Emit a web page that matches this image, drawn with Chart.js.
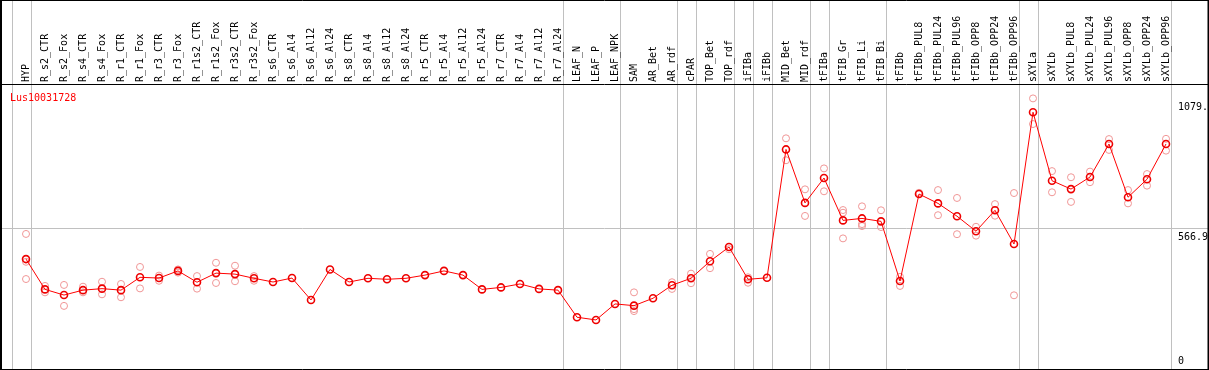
<!DOCTYPE html>
<html>
<head>
<meta charset="utf-8">
<script src="https://cdn.jsdelivr.net/npm/chart.js@4/dist/chart.umd.min.js"></script>
<style>
  body { margin: 0; background: #fff; }
  canvas { display: block; }
</style>
</head>
<body>
<canvas id="chart" width="1209" height="370"></canvas>
<script>
var seriesName = 'Lus10031728';

var categories = ['HYP', 'R_s2_CTR', 'R_s2_Fox', 'R_s4_CTR', 'R_s4_Fox', 'R_r1_CTR', 'R_r1_Fox',
    'R_r3_CTR', 'R_r3_Fox', 'R_r1s2_CTR', 'R_r1s2_Fox', 'R_r3s2_CTR', 'R_r3s2_Fox',
    'R_s6_CTR', 'R_s6_Al4', 'R_s6_Al12', 'R_s6_Al24', 'R_s8_CTR', 'R_s8_Al4', 'R_s8_Al12', 'R_s8_Al24',
    'R_r5_CTR', 'R_r5_Al4', 'R_r5_Al12', 'R_r5_Al24', 'R_r7_CTR', 'R_r7_Al4', 'R_r7_Al12', 'R_r7_Al24',
    'LEAF_N', 'LEAF_P', 'LEAF_NPK', 'SAM', 'AR_Bet', 'AR_rdf', 'cPAR', 'TOP_Bet', 'TOP_rdf',
    'iFIBa', 'iFIBb', 'MID_Bet', 'MID_rdf', 'tFIBa', 'tFIB_Gr', 'tFIB_Li', 'tFIB_Bi',
    'tFIBb', 'tFIBb_PUL8', 'tFIBb_PUL24', 'tFIBb_PUL96', 'tFIBb_OPP8', 'tFIBb_OPP24', 'tFIBb_OPP96',
    'sXYLa', 'sXYLb', 'sXYLb_PUL8', 'sXYLb_PUL24', 'sXYLb_PUL96', 'sXYLb_OPP8', 'sXYLb_OPP24', 'sXYLb_OPP96'];

// mean expression per sample
var means = [442, 319, 296, 316, 322, 316, 368, 365, 394, 348, 385, 381, 364,
    349, 365, 276, 400, 349, 364, 360, 364, 377, 394, 377, 319, 327, 341, 321, 316,
    206, 195, 260, 253, 283, 336, 364, 433, 491, 360, 366, 887, 670, 771, 599, 607, 595,
    353, 706, 668, 616, 555, 640, 503, 1038, 760, 726, 775, 909, 693, 766, 909];

// replicate values (null = not visible / hidden under the mean)
var rep1 = [544, 333, 337, 330, 350, 341, 410, 375, 400, 373, 427, 415, 373,
    null, null, null, null, null, null, null, null, null, null, null, null, null, null, null, null,
    null, null, null, 307, null, 348, 383, 463, 482, 368, null, 932, 725, 810, 641, 656, 640,
    370, 711, 722, 690, 573, 665, 710, 1094, 799, 774, 797, 929, 722, 787, 930];
var rep2 = [431, 307, 252, 307, 299, 287, 323, 354, 387, 322, 345, 352, 354,
    null, null, null, null, null, null, null, null, null, null, null, null, null, null, null, null,
    null, null, null, 239, null, 321, 344, 405, null, 346, null, 843, 617, 717, 630, 584, 572,
    333, null, 620, 543, 537, 618, 295, 990, 713, 674, 754, 885, 668, 740, 882];
var rep3 = [361, null, null, null, null, null, null, null, null, null, null, null, null,
    null, null, null, null, null, null, null, null, null, null, null, null, null, null, null, null,
    null, null, null, 231, null, null, null, null, null, null, null, null, null, null, 526, 576, null,
    null, null, null, null, null, null, null, null, null, null, null, null, null, null, null];

// index of the last sample in each group (a divider follows it)
var groupEnds = [-1, 0, 28, 31, 34, 35, 37, 38, 39, 41, 42, 45, 52, 53, 60];

var yTickLabels = ['0', '566.9', '1079.'];
var yTickValues = [0, 566.9, 1079];

function toPoints(arr) {
    var pts = [];
    for (var i = 0; i < arr.length; i++) {
        if (arr[i] !== null) pts.push({ x: i, y: arr[i] });
    }
    return pts;
}

var FONT = '10px "DejaVu Sans Mono", monospace';

var framePlugin = {
    id: 'frame',
    beforeDatasetsDraw: function (chart) {
        var ctx = chart.ctx;
        var xs = chart.scales.x, ys = chart.scales.y;
        var area = chart.chartArea;
        ctx.save();
        ctx.strokeStyle = '#c0c0c0';
        ctx.lineWidth = 1;
        // group dividers through header and plot
        groupEnds.forEach(function (i) {
            var px = Math.round(xs.getPixelForValue(i + 0.24)) + 0.5;
            ctx.beginPath();
            ctx.moveTo(px, 0);
            ctx.lineTo(px, area.bottom);
            ctx.stroke();
        });
        // mid reference line
        var py = Math.round(ys.getPixelForValue(yTickValues[1])) + 0.5;
        ctx.beginPath();
        ctx.moveTo(area.left, py);
        ctx.lineTo(area.right, py);
        ctx.stroke();
        ctx.restore();
    },
    afterDatasetsDraw: function (chart) {
        var ctx = chart.ctx;
        var xs = chart.scales.x, ys = chart.scales.y;
        var area = chart.chartArea;
        ctx.save();
        // black frame
        ctx.strokeStyle = '#000';
        ctx.lineWidth = 1;
        ctx.beginPath();
        ctx.moveTo(0, 0.5); ctx.lineTo(chart.width, 0.5);
        ctx.moveTo(0, area.top - 0.5); ctx.lineTo(chart.width, area.top - 0.5);
        ctx.moveTo(0, area.bottom + 0.5); ctx.lineTo(chart.width, area.bottom + 0.5);
        ctx.stroke();
        ctx.lineWidth = 2;
        ctx.beginPath();
        ctx.moveTo(1, 0); ctx.lineTo(1, chart.height);
        ctx.moveTo(area.right + 0.5, 0); ctx.lineTo(area.right + 0.5, chart.height);
        ctx.stroke();

        ctx.font = FONT;
        ctx.fillStyle = '#000';
        // rotated category labels in the header
        categories.forEach(function (name, i) {
            var px = xs.getPixelForValue(i);
            ctx.save();
            ctx.translate(px, area.top - 3);
            ctx.rotate(-Math.PI / 2);
            ctx.textAlign = 'left';
            ctx.textBaseline = 'middle';
            ctx.fillText(name, 0, 0);
            ctx.restore();
        });

        // value labels on the right
        ctx.textAlign = 'left';
        yTickValues.forEach(function (v, k) {
            var py = ys.getPixelForValue(v);
            if (k === 0) {
                ctx.textBaseline = 'bottom';
                ctx.fillText(yTickLabels[k], area.right - 30, py - 2);
            } else if (k === yTickValues.length - 1) {
                ctx.textBaseline = 'top';
                ctx.fillText(yTickLabels[k], area.right - 30, py + 0.5);
            } else {
                ctx.textBaseline = 'top';
                ctx.fillText(yTickLabels[k], area.right - 30, py + 4.5);
            }
        });

        // series name
        ctx.fillStyle = '#ff0000';
        ctx.textBaseline = 'alphabetic';
        ctx.fillText(seriesName, 10, area.top + 16);
        ctx.restore();
    }
};

var repStyle = {
    showLine: false,
    pointStyle: 'circle',
    pointRadius: 3.5,
    pointBorderWidth: 1,
    pointBorderColor: 'rgba(240, 150, 150, 1)',
    pointBackgroundColor: 'rgba(0,0,0,0)',
    order: 1
};

new Chart(document.getElementById('chart'), {
    type: 'line',
    data: {
        datasets: [
            {
                label: seriesName,
                data: toPoints(means),
                borderColor: '#ff0000',
                borderWidth: 1,
                pointStyle: 'circle',
                pointRadius: 3.5,
                pointBorderWidth: 1.6,
                pointBorderColor: '#ee0000',
                pointBackgroundColor: 'rgba(0,0,0,0)',
                tension: 0,
                order: 0
            },
            Object.assign({ label: 'rep1', data: toPoints(rep1) }, repStyle),
            Object.assign({ label: 'rep2', data: toPoints(rep2) }, repStyle),
            Object.assign({ label: 'rep3', data: toPoints(rep3) }, repStyle)
        ]
    },
    options: {
        responsive: false,
        animation: false,
        layout: { autoPadding: false, padding: { top: 85, left: 1, right: 1, bottom: 1 } },
        plugins: {
            legend: { display: false },
            tooltip: { enabled: false }
        },
        scales: {
            x: {
                type: 'linear',
                display: false,
                min: -25 / 19,
                max: 60 + 42 / 19
            },
            y: {
                type: 'linear',
                display: false,
                min: -4.06,
                max: 1148.4
            }
        }
    },
    plugins: [framePlugin]
});
</script>
</body>
</html>
